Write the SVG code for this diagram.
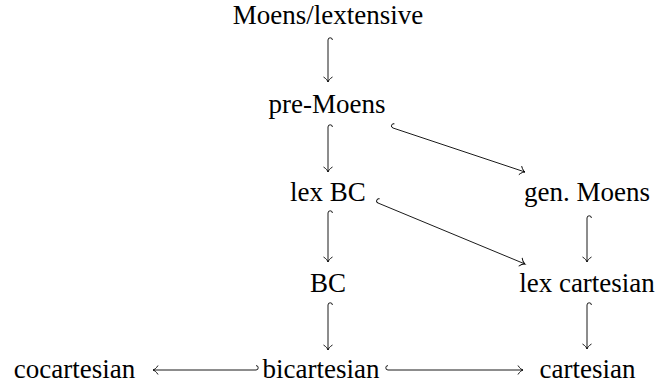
<svg xmlns="http://www.w3.org/2000/svg" width="660" height="389" viewBox="0 0 660 389">
<style>
.lbl{font-size:27px;fill:#000;text-anchor:middle}
.arr{fill:none;stroke:#000;stroke-width:0.9;marker-start:url(#hook);marker-end:url(#tip)}
.arr.flip{marker-start:url(#hook2)}
</style>
<defs>
<marker id="tip" markerUnits="userSpaceOnUse" viewBox="-6 -5 8 10" refX="0" refY="0" markerWidth="8" markerHeight="10" orient="auto" overflow="visible">
<path d="M-5,-4.5 C-3.3,-1.6 -1.1,-0.3 0,0 C-1.1,0.3 -3.3,1.6 -5,4.5" fill="none" stroke="#000" stroke-width="0.9"/>
</marker>
<marker id="hook" markerUnits="userSpaceOnUse" viewBox="-4 -6 8 8" refX="0" refY="0" markerWidth="8" markerHeight="8" orient="auto" overflow="visible">
<path d="M0,0 A2.2,2.2 0 0 1 0,-4.4" fill="none" stroke="#000" stroke-width="0.9"/>
</marker>
<marker id="hook2" markerUnits="userSpaceOnUse" viewBox="-4 -2 8 8" refX="0" refY="0" markerWidth="8" markerHeight="8" orient="auto" overflow="visible">
<path d="M0,0 A2.2,2.2 0 0 0 0,4.4" fill="none" stroke="#000" stroke-width="0.9"/>
</marker>
</defs>
<g id="connectors">
<path class="arr" d="M328,40 L328,82"/>
<path class="arr" d="M328,127 L328,172"/>
<path class="arr" d="M328,213 L328,262"/>
<path class="arr" d="M328,305 L328,350"/>
<path class="arr" d="M587,218 L587,262"/>
<path class="arr" d="M587,305 L587,349"/>
<path class="arr" d="M393,128 L525,172"/>
<path class="arr" d="M378,203 L525,264"/>
<path class="arr flip" d="M256,370 L153,370"/>
<path class="arr" d="M388,370 L523,370"/>
</g>
<g font-family="Liberation Serif, DejaVu Serif, serif">
<g id="n-moens-lext"><text class="lbl" x="328" y="24">Moens/lextensive</text></g>
<g id="n-premoens"><text class="lbl" x="327" y="113">pre-Moens</text></g>
<g id="n-lexbc"><text class="lbl" x="328" y="201">lex BC</text></g>
<g id="n-genmoens"><text class="lbl" x="587" y="201">gen. Moens</text></g>
<g id="n-bc"><text class="lbl" x="328" y="292">BC</text></g>
<g id="n-lexcart"><text class="lbl" x="587" y="292">lex cartesian</text></g>
<g id="n-cocart"><text class="lbl" x="74.5" y="378">cocartesian</text></g>
<g id="n-bicart"><text class="lbl" x="321" y="378">bicartesian</text></g>
<g id="n-cart"><text class="lbl" x="587.5" y="378">cartesian</text></g>
</g>
</svg>
